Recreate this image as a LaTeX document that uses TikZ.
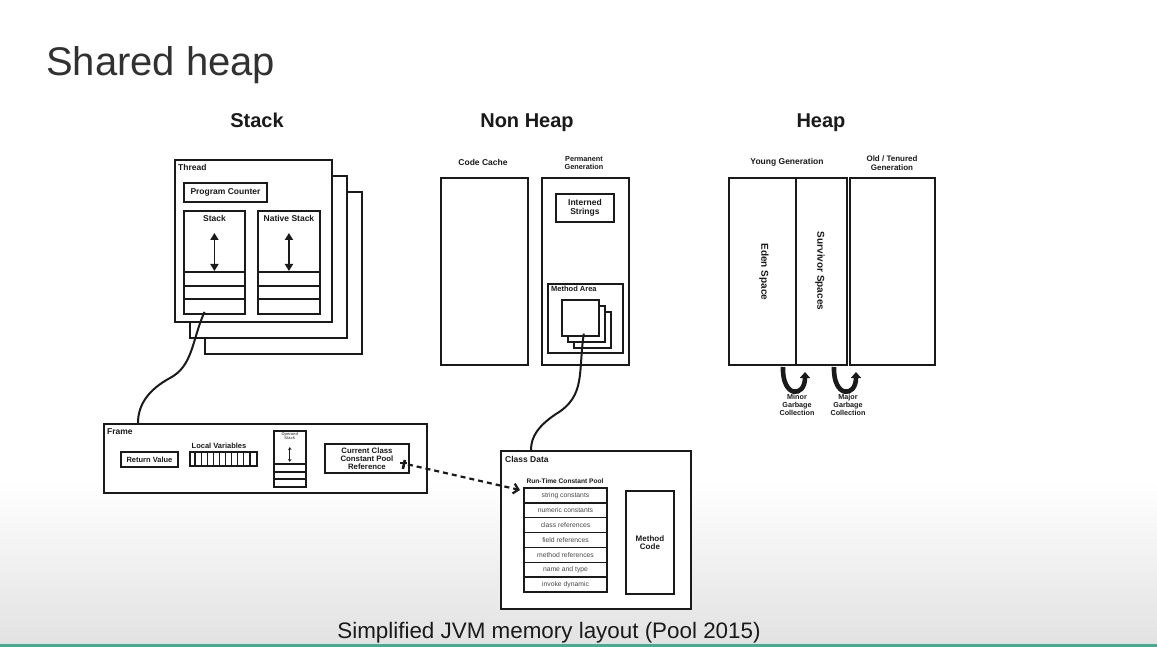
\documentclass[tikz,border=0pt]{standalone}
\usepackage{fontspec}
\setmainfont{Liberation Sans}
\usetikzlibrary{arrows.meta,calc}
\definecolor{ink}{HTML}{1A1A1A}
\definecolor{rulegreen}{RGB}{72,170,150}
\definecolor{floor}{HTML}{E2E2E2}
\newcommand\fsz[1]{\fontsize{#1}{#1}\selectfont}
\begin{document}
\begin{tikzpicture}[x=1pt,y=-1pt,
  bx/.style={draw=ink, line width=1.9pt, fill=white, inner sep=0pt, anchor=north west},
  sz/.style 2 args={minimum width=#1pt, minimum height=#2pt},
  lbl/.style={font=\bfseries\fsz{8.5}, text=ink, align=center, inner sep=0pt},
  row/.style={draw=ink, line width=1.5pt, fill=white, inner sep=0pt, outer sep=0pt, anchor=north west,
              minimum width=83pt, minimum height=14.86pt,
              font=\fsz{6.8}, text=ink!80},
  divider/.style={draw=ink, line width=1.6pt},
  dbl/.style={draw=ink, line width=1.9pt, {Triangle[length=7pt,width=8pt]}-{Triangle[length=7pt,width=8pt]}},
  link/.style={draw=ink, line width=2pt},
  uarr/.style={draw=ink, line width=4.6pt, -{Triangle[length=6pt,width=10pt]}},
]
\useasboundingbox (0,0) rectangle (1157,647);
% backdrop
\fill[white] (0,0) rectangle (1157,647);
\shade[top color=white, bottom color=floor] (0,480) rectangle (1157,644);
\fill[rulegreen] (0,644) rectangle (1157,647);

% headings
\node[font=\fsz{40}, anchor=base west, text=ink!90, inner sep=0pt] (title) at (46,76) {Shared heap};
\node[font=\bfseries\fsz{20}, anchor=base, text=ink, inner sep=0pt] (hstack) at (257,128) {Stack};
\node[font=\bfseries\fsz{20}, anchor=base, text=ink, inner sep=0pt] (hnon) at (527,128) {Non Heap};
\node[font=\bfseries\fsz{20}, anchor=base, text=ink, inner sep=0pt] (hheap) at (821,128) {Heap};

% ---------------- Stack: threads ----------------
\node[bx, sz={157}{162}] (t3) at (204,191) {};
\node[bx, sz={157}{162}] (t2) at (189,175) {};
\node[bx, sz={157}{162}] (t1) at (174,159) {};
\node[lbl, anchor=north west] (thread) at (178,164) {Thread};
\node[bx, sz={83}{19}, lbl] (pc) at (183,182) {Program Counter};
\node[bx, sz={61}{103}] (stk) at (183,210) {};
\node[bx, sz={62}{103}] (nstk) at (257,210) {};
\node[lbl] (stklbl) at ($(stk.north)+(0,8)$) {Stack};
\node[lbl] (nstklbl) at ($(nstk.north)+(0,8)$) {Native Stack};
\foreach \yy in {62,76,89} {
  \draw[divider] ($(stk.north west)+(0,\yy)$) -- ($(stk.north east)+(0,\yy)$);
  \draw[divider] ($(nstk.north west)+(0,\yy)$) -- ($(nstk.north east)+(0,\yy)$);
}
\draw[dbl] ($(stk.north)+(0,23)$) -- ($(stk.north)+(0,61)$);
\draw[dbl] ($(nstk.north)+(0,23)$) -- ($(nstk.north)+(0,61)$);

% ---------------- Non heap ----------------
\node[bx, sz={87}{187}] (cc) at (440,177) {};
\node[lbl] (cclbl) at (483,162) {Code Cache};
\node[bx, sz={87}{187}] (pg) at (541,177) {};
\node[lbl, font=\bfseries\fsz{7.3}, align=center] (pglbl) at (584,163) {Permanent\\[0pt]Generation};
\node[bx, sz={58}{28}, lbl, font=\bfseries\fsz{8.5}] (is) at (555,193) {Interned\\Strings};
\node[bx, sz={75}{69}] (ma) at (547,283) {};
\node[lbl, font=\bfseries\fsz{7.5}, anchor=north west] (malbl) at (551,286) {Method Area};
\node[bx, sz={37}{36}, line width=1.6pt] (sq3) at (573,311) {};
\node[bx, sz={37}{36}, line width=1.6pt] (sq2) at (567,305) {};
\node[bx, sz={37}{36}, line width=1.6pt] (sq1) at (561,299) {};

% ---------------- Heap ----------------
\node[bx, sz={118}{187}] (yg) at (728,177) {};
\draw[divider, line width=1.9pt] ($(yg.north west)+(68,0)$) -- ($(yg.south west)+(68,0)$);
\node[bx, sz={85}{187}] (og) at (849,177) {};
\node[lbl] (yglbl) at (787,162) {Young Generation};
\node[lbl, font=\bfseries\fsz{8}, align=center] (oglbl) at (892,163) {Old / Tenured\\[0.5pt]Generation};
\node[lbl, font=\bfseries\fsz{10}, rotate=-90] (eden) at (764,272) {Eden Space};
\node[lbl, font=\bfseries\fsz{10}, rotate=-90] (surv) at (820,271) {Survivor Spaces};

% garbage collection turns
\draw[uarr] (783,367) .. controls (782,398) and (805,398) .. (805,372);
\draw[uarr] (834,367) .. controls (833,398) and (856,398) .. (856,372);
\node[lbl, font=\bfseries\fsz{7.2}, anchor=north, align=center] (minor) at (797,394) {Minor\\[0.8pt]Garbage\\[0.8pt]Collection};
\node[lbl, font=\bfseries\fsz{7.2}, anchor=north, align=center] (major) at (848,394) {Major\\[0.8pt]Garbage\\[0.8pt]Collection};

% ---------------- Frame ----------------
\node[bx, sz={323}{69}] (frame) at (103,423) {};
\node[lbl, anchor=north west] (framelbl) at (107,428) {Frame};
\node[bx, sz={57}{15}, lbl, font=\bfseries\fsz{7.5}] (rv) at (120,451) {Return Value};
\node[lbl, font=\bfseries\fsz{7.5}] (lvlbl) at (219,446) {Local Variables};
\node[bx, sz={67}{14}, line width=1.6pt] (lv) at (189,451) {};
\foreach \i in {1,...,10}
  \draw[divider, line width=1.3pt] ($(lv.north west)+(\i*6.09,0)$) -- ($(lv.south west)+(\i*6.09,0)$);
\node[bx, sz={32}{56}, line width=1.6pt] (os) at (273,430) {};
\node[lbl, font=\bfseries\fsz{4}, text=ink!70, align=center] (oslbl) at ($(os.north)+(0,6)$) {Operand\\Stack};
\foreach \yy in {34,42,49}
  \draw[divider, line width=1.3pt] ($(os.north west)+(0,\yy)$) -- ($(os.north east)+(0,\yy)$);
\draw[draw=ink, line width=0.7pt, {Stealth[length=3pt,width=3.5pt,open]}-{Stealth[length=3pt,width=3.5pt,open]}]
  ($(os.north)+(0,17)$) -- ($(os.north)+(0,32)$);
\node[bx, sz={84}{29}, lbl, font=\bfseries\fsz{7.8}, align=center] (cp) at (324,443) {Current Class\\Constant Pool\\Reference};

% ---------------- Class data ----------------
\node[bx, sz={190}{158}] (cd) at (500,450) {};
\node[lbl, anchor=north west] (cdlbl) at (505,456) {Class Data};
\node[lbl, font=\bfseries\fsz{6.6}] (rcplbl) at (565,481) {Run-Time Constant Pool};
\node[row] (r1) at (524,488) {string constants};
\node[row] (r2) at (r1.south west) {numeric constants};
\node[row] (r3) at (r2.south west) {class references};
\node[row] (r4) at (r3.south west) {field references};
\node[row] (r5) at (r4.south west) {method references};
\node[row] (r6) at (r5.south west) {name and type};
\node[row] (r7) at (r6.south west) {invoke dynamic};
\node[bx, sz={48}{103}, lbl, font=\bfseries\fsz{8}] (mc) at (625,490) {Method\\Code};

% ---------------- connectors ----------------
\draw[link] ($(stk.south)+(-10,-3)$) .. controls (192,340) and (193,366) .. (170,378)
  .. controls (148,390) and (138,405) .. ($(frame.north west)+(35,0)$);
\draw[link] ($(sq1.south)+(3.5,-3)$) .. controls (578,372) and (586,396) .. (556,414)
  .. controls (538,426) and (531,437) .. ($(cd.north west)+(31,0)$);
\draw[draw=ink, line width=2.6pt] ($(cp.south east)+(-7,-5)$) -- ($(cp.south east)+(-5,-14)$);
\draw[draw=ink, line width=2pt] ($(cp.south east)+(-10,-11)$) -- ($(cp.south east)+(-3,-11)$);
\draw[draw=ink, line width=2.2pt, dash pattern=on 5pt off 4pt, -{Straight Barb[length=5pt,width=10pt,line width=2.2pt]}]
  ($(cp.east)+(-2,6)$) -- ($(r1.north west)+(-4,2)$);

% caption
\node[font=\fsz{22.4}, anchor=base, text=ink, inner sep=0pt] (caption) at (549,638) {Simplified JVM memory layout (Pool 2015)};
\end{tikzpicture}
\end{document}
